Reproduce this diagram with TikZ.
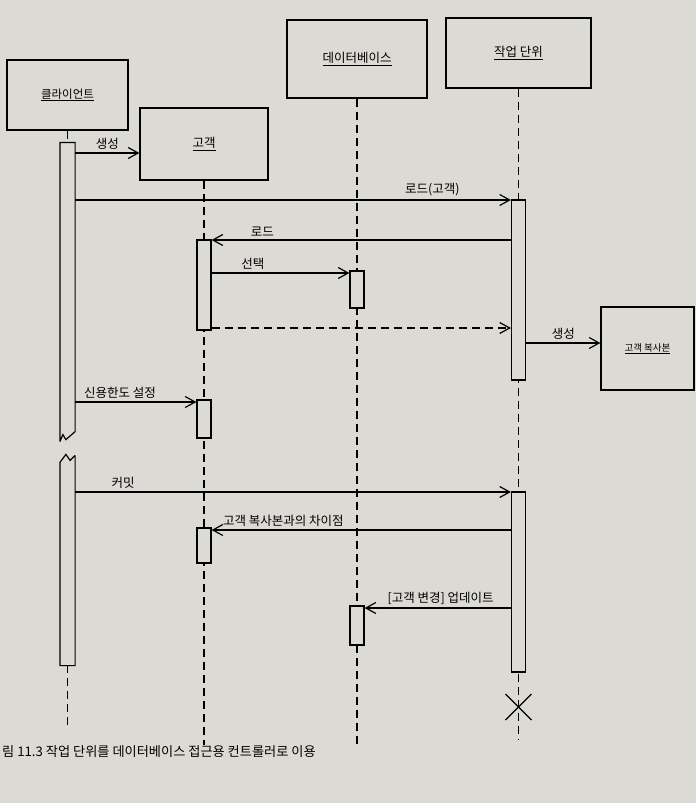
\documentclass[tikz,border=0pt]{standalone}
\usepackage{fontspec}
\setmainfont{Noto Sans CJK KR}
\usetikzlibrary{arrows.meta,positioning}
\definecolor{paper}{HTML}{DCDAD5}
\tikzset{
  objbox/.style 2 args={draw,line width=1.2pt,fill=paper,minimum width=#1,minimum height=#2,inner sep=0pt,font=\fontsize{12.5}{14}\selectfont},
  actbar/.style={draw,line width=1.2pt,fill=paper,minimum width=14pt,minimum height=#1,inner sep=0pt},
  lifeline/.style={line width=1.2pt,dash pattern=on 8pt off 5pt},
  msg/.style={line width=1.2pt,-{Straight Barb[length=10pt,width=11pt]}},
  reply/.style={msg,dash pattern=on 8pt off 5pt},
  msglabel/.style={above,font=\fontsize{12.5}{14}\selectfont,inner sep=3pt}
}
\begin{document}
\begin{tikzpicture}[x=1pt,y=-1pt]
\useasboundingbox[fill=paper] (0,0) rectangle (696,803);
% objects
\node[objbox={121pt}{70pt},font=\fontsize{11.5}{13}\selectfont] (client) at (67.5,95) {\underline{클라이언트}};
\node[objbox={128pt}{72pt}] (cust) at (204,144) {\underline{고객}};
\node[objbox={140pt}{78pt}] (db) at (357,59) {\underline{데이터베이스}};
\node[objbox={145pt}{70pt}] (uow) at (518.5,53) {\underline{작업 단위}};
\node[objbox={93pt}{83pt},font=\fontsize{9.5}{11}\selectfont] (copy) at (647.5,348.5) {\underline{고객 복사본}};
% lifelines
\coordinate (uowend) at (uow |- 0,707);
\draw[lifeline] (client.south) -- (client |- 0,143);
\draw[lifeline] (client |- 0,665) -- (client |- 0,725);
\draw[lifeline] (cust.south) -- (cust |- 0,745);
\draw[lifeline] (db.south) -- (db |- 0,745);
\draw[lifeline] (uow.south) -- (uow |- 0,740);
% activations
\node[actbar=294pt,draw=none] (cl1) at (client |- 0,290) {};
\node[actbar=207pt,draw=none] (cl2) at (client |- 0,561.5) {};
\draw[line width=1.2pt,line join=miter] ([yshift=-4pt]cl1.south west) -- (cl1.north west) -- (cl1.north east) -- ([yshift=6pt]cl1.south east)
  -- ([xshift=6pt,yshift=-2pt]cl1.south west) -- ([xshift=3pt,yshift=3pt]cl1.south west) -- ([yshift=-4pt]cl1.south west);
\draw[line width=1.2pt,line join=miter] ([yshift=2pt]cl2.north east) -- (cl2.south east) -- (cl2.south west) -- ([yshift=-5pt]cl2.north west)
  -- ([xshift=6pt,yshift=3pt]cl2.north west) -- ([xshift=-5pt,yshift=-3pt]cl2.north east) -- ([yshift=2pt]cl2.north east);
\node[actbar=90pt] (cu1) at (cust |- 0,285) {};
\node[actbar=38pt] (cu2) at (cust |- 0,419) {};
\node[actbar=35pt] (cu3) at (cust |- 0,545.5) {};
\node[actbar=37pt] (db1) at (db |- 0,289.5) {};
\node[actbar=39pt] (db2) at (db |- 0,625.5) {};
\node[actbar=180pt] (uw1) at (uow |- 0,290) {};
\node[actbar=180pt] (uw2) at (uow |- 0,582) {};
\draw[line width=1.2pt] ([shift={(-13,-13)}]uowend) -- ([shift={(13,13)}]uowend);
\draw[line width=1.2pt] ([shift={(-13,13)}]uowend) -- ([shift={(13,-13)}]uowend);
% messages
\draw[msg] (cl1.east |- 0,153) -- (cust.west |- 0,153) node[msglabel,midway]{생성};
\draw[msg] (cl1.east |- 0,200) -- (uw1.west |- 0,200) node[msglabel,pos=0.82]{로드(고객)};
\draw[msg] (uw1.west |- 0,240) -- (cu1.east |- 0,240) node[msglabel,pos=0.83]{로드};
\draw[msg] (cu1.east |- 0,273) -- (db1.west |- 0,273) node[msglabel,pos=0.3]{선택};
\draw[reply] (cu1.east |- 0,328) -- (uw1.west |- 0,328);
\draw[msg] (uw1.east |- 0,343) -- (copy.west |- 0,343) node[msglabel,midway]{생성};
\draw[msg] (cl1.east |- 0,402) -- (cu2.west |- 0,402) node[msglabel,pos=0.37]{신용한도 설정};
\draw[msg] (cl2.east |- 0,492) -- (uw2.west |- 0,492) node[msglabel,pos=0.11]{커밋};
\draw[msg] (uw2.west |- 0,530) -- (cu3.east |- 0,530) node[msglabel,pos=0.76]{고객 복사본과의 차이점};
\draw[msg] (uw2.west |- 0,608) -- (db2.east |- 0,608) node[msglabel,pos=0.48]{[고객 변경] 업데이트};
\node[anchor=west,inner sep=0pt,font=\fontsize{13.2}{15}\selectfont] (caption) at (2,752) {림 11.3 작업 단위를 데이터베이스 접근용 컨트롤러로 이용};
\end{tikzpicture}
\end{document}
